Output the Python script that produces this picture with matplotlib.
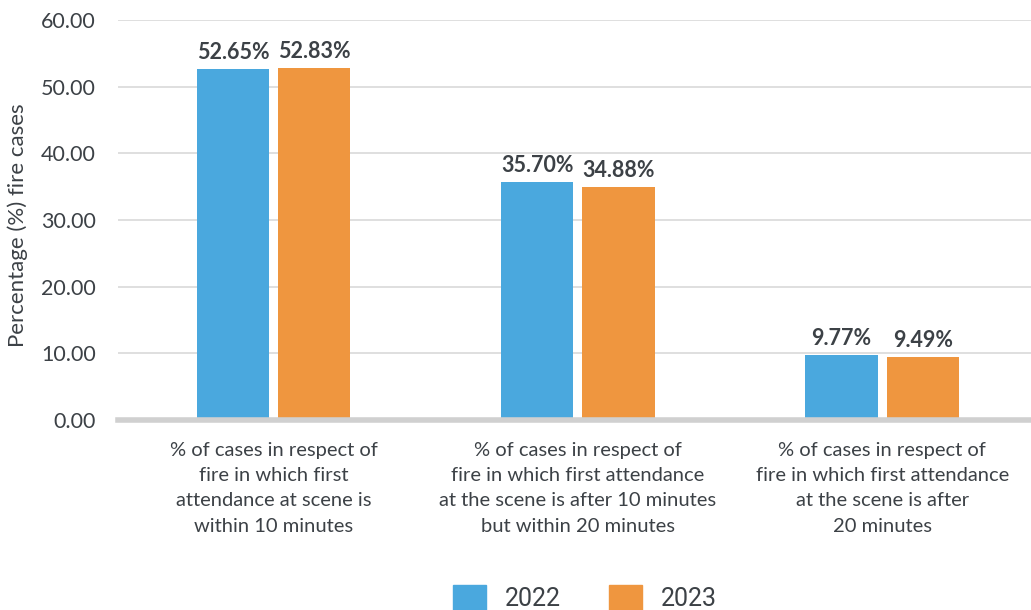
import numpy as np
import matplotlib
matplotlib.use("Agg")
import matplotlib.pyplot as plt
from matplotlib.patches import Patch

plt.rcParams['font.family'] = ['Lato', 'DejaVu Sans']

# data
categories = [
    "% of cases in respect of\nfire in which first\nattendance at scene is\nwithin 10 minutes",
    "% of cases in respect of\nfire in which first attendance\nat the scene is after 10 minutes\nbut within 20 minutes",
    "% of cases in respect of\nfire in which first attendance\nat the scene is after\n20 minutes",
]
years = ["2022", "2023"]
vals_2022 = [52.65, 35.70, 9.77]
vals_2023 = [52.83, 34.88, 9.49]
yticks = [0, 10, 20, 30, 40, 50, 60]

c_blue = "#4aa8de"
c_orange = "#ef963f"
txt = "#3c4146"

fig = plt.figure(figsize=(10.31, 6.10), dpi=100)
ax = fig.add_axes([118 / 1031, 190 / 610, 913 / 1031, 400 / 610])

x = np.arange(len(categories))
w = 0.237
off = w / 2 + 0.015
b1 = ax.bar(x - off, vals_2022, w, color=c_blue, zorder=3)
b2 = ax.bar(x + off, vals_2023, w, color=c_orange, zorder=3)

for bars, vals in ((b1, vals_2022), (b2, vals_2023)):
    for r, v in zip(bars, vals):
        ax.text(r.get_x() + r.get_width() / 2, v + 0.9, f"{v:.2f}%",
                ha='center', va='bottom', fontsize=15.5, fontweight='bold', color=txt)

ax.set_xlim(-0.511, 2.489)
ax.set_ylim(0, 60)
ax.set_yticks(yticks)
ax.set_yticklabels([f"{t:.2f}" for t in yticks], fontsize=15.5, color=txt)
ax.set_xticks(x)
ax.set_xticklabels(categories, fontsize=14.5, color=txt, linespacing=1.58)
ax.tick_params(axis='x', length=0, pad=16)
ax.tick_params(axis='y', length=0, pad=16)
ax.grid(axis='y', color='#d9d9d9', lw=1.2, zorder=0)
ax.axhline(0, color='#d0d0d0', lw=4, zorder=4, clip_on=False)
for s in ax.spines.values():
    s.set_visible(False)

ax.set_ylabel("Percentage (%) fire cases", fontsize=16, color=txt)
ax.yaxis.set_label_coords(-0.099, 0.4875)

handles = [Patch(color=c_blue), Patch(color=c_orange)]
leg = fig.legend(handles, years, loc='center', bbox_to_anchor=(585 / 1031, 12 / 610),
                 ncol=2, frameon=False, handlelength=1.32, handleheight=1.2,
                 handletextpad=0.76, columnspacing=1.92, borderpad=0,
                 prop={'family': 'Roboto', 'size': 18})
for t in leg.get_texts():
    t.set_color(txt)

fig.savefig("out.png", dpi=100)
